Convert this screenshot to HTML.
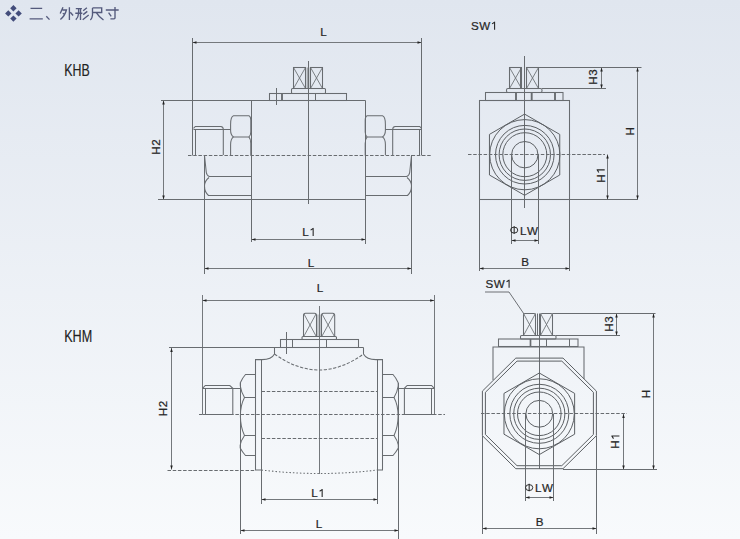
<!DOCTYPE html>
<html><head><meta charset="utf-8"><style>
html,body{margin:0;padding:0;}
body{width:740px;height:539px;overflow:hidden;background:linear-gradient(to bottom,rgb(224,230,239) 0%,rgb(248,250,252) 100%);font-family:"Liberation Sans",sans-serif;}
svg{position:absolute;left:0;top:0;font-family:"Liberation Sans",sans-serif;}
</style></head><body>
<svg width="740" height="539" viewBox="0 0 740 539">
<line x1="192.5" y1="38" x2="192.5" y2="155.5" stroke="#686c70" stroke-width="1.05"/>
<line x1="421.5" y1="38" x2="421.5" y2="155.5" stroke="#686c70" stroke-width="1.05"/>
<line x1="192.5" y1="42.5" x2="421.5" y2="42.5" stroke="#74787c" stroke-width="1.05"/>
<polygon points="192.50,42.50 196.50,41.25 196.50,43.75" fill="#222222"/>
<polygon points="421.50,42.50 417.50,41.25 417.50,43.75" fill="#222222"/>
<line x1="308.5" y1="61" x2="308.5" y2="204" stroke="#686c70" stroke-width="1.05"/>
<rect x="293.5" y="67.5" width="12.00" height="21.00" stroke="#686c70" stroke-width="1.05" fill="none"/>
<line x1="293.5" y1="67.5" x2="305.5" y2="88.5" stroke="#686c70" stroke-width="0.84"/>
<line x1="305.5" y1="67.5" x2="293.5" y2="88.5" stroke="#686c70" stroke-width="0.84"/>
<rect x="310.5" y="67.5" width="12.00" height="21.00" stroke="#686c70" stroke-width="1.05" fill="none"/>
<line x1="310.5" y1="67.5" x2="322.5" y2="88.5" stroke="#686c70" stroke-width="0.84"/>
<line x1="322.5" y1="67.5" x2="310.5" y2="88.5" stroke="#686c70" stroke-width="0.84"/>
<line x1="308" y1="67.5" x2="308" y2="88.5" stroke="#a5a9ad" stroke-width="2.73"/>
<line x1="308.5" y1="61" x2="308.5" y2="204" stroke="#686c70" stroke-width="1.05"/>
<rect x="291.5" y="88.5" width="34.00" height="5.00" stroke="#686c70" stroke-width="1.05" fill="none" rx="1"/>
<rect x="269.5" y="93.5" width="77.00" height="7.00" stroke="#686c70" stroke-width="1.05" fill="none"/>
<line x1="282" y1="93.5" x2="282" y2="100.5" stroke="#686c70" stroke-width="1.89"/>
<line x1="315.5" y1="93.5" x2="315.5" y2="100.5" stroke="#686c70" stroke-width="1.05"/>
<line x1="276.5" y1="88" x2="276.5" y2="105" stroke="#686c70" stroke-width="1.05"/>
<line x1="161" y1="100.5" x2="365.5" y2="100.5" stroke="#686c70" stroke-width="1.05"/>
<line x1="251.5" y1="100.5" x2="251.5" y2="242" stroke="#686c70" stroke-width="1.05"/>
<line x1="365.5" y1="100.5" x2="365.5" y2="244" stroke="#686c70" stroke-width="1.05"/>
<path d="M193.5,128.3 L195.3,126.5 H220.8 Q223.3,126.8 223.3,129.5 V155" stroke="#686c70" stroke-width="1.05" fill="none"/>
<line x1="193.5" y1="129.5" x2="230.6" y2="129.5" stroke="#686c70" stroke-width="1.05"/>
<line x1="195.5" y1="129.5" x2="195.5" y2="155" stroke="#686c70" stroke-width="1.05"/>
<path d="M233.5,115.7 H248.9 Q250.8,116.5 250.8,120.5 V132.1 Q250.8,135.5 248.9,136.9 H233.5 Q230.6,135 230.6,130.2 V124.4 Q230.6,116.5 233.5,115.7 Z" stroke="#686c70" stroke-width="1.05" fill="none"/>
<path d="M233.5,136.9 Q230.6,139 230.6,144.6 V155 M248.9,136.9 Q250.8,139 250.8,143.6 V155" stroke="#686c70" stroke-width="1.05" fill="none"/>
<path d="M421.5,128.3 L419.7,126.5 H395.2 Q392.7,126.8 392.7,129.5 V155" stroke="#686c70" stroke-width="1.05" fill="none"/>
<line x1="385.4" y1="129.5" x2="421.5" y2="129.5" stroke="#686c70" stroke-width="1.05"/>
<line x1="419.5" y1="129.5" x2="419.5" y2="155" stroke="#686c70" stroke-width="1.05"/>
<path d="M 382.50 115.70 H 367.10 Q 365.20 116.50 365.20 120.50 V 132.10 Q 365.20 135.50 367.10 136.90 H 382.50 Q 385.40 135.00 385.40 130.20 V 124.40 Q 385.40 116.50 382.50 115.70 Z" stroke="#686c70" stroke-width="1.05" fill="none"/>
<path d="M 382.50 136.90 Q 385.40 139.00 385.40 144.60 V 155.00 M 367.10 136.90 Q 365.20 139.00 365.20 143.60 V 155.00" stroke="#686c70" stroke-width="1.05" fill="none"/>
<line x1="188" y1="155.5" x2="432" y2="155.5" stroke="#686c70" stroke-width="1.05" stroke-dasharray="3.5 1.7"/>
<line x1="204.5" y1="155" x2="204.5" y2="274" stroke="#686c70" stroke-width="1.05"/>
<path d="M204.5,155.5 L206.3,172.5 Q207,176 209.5,176.5 H251.5" stroke="#686c70" stroke-width="1.05" fill="none"/>
<path d="M209,177.5 Q204.5,181 204.5,186 Q204.5,192 208.5,195.5 H251.5" stroke="#686c70" stroke-width="1.05" fill="none"/>
<line x1="411.5" y1="155" x2="411.5" y2="274" stroke="#686c70" stroke-width="1.05"/>
<path d="M411.5,155.5 L409.7,172.5 Q409,176 406.5,176.5 H365.5" stroke="#686c70" stroke-width="1.05" fill="none"/>
<path d="M407,177.5 Q411.5,181 411.5,186 Q411.5,192 407.5,195.5 H365.5" stroke="#686c70" stroke-width="1.05" fill="none"/>
<line x1="158" y1="199.5" x2="365.5" y2="199.5" stroke="#686c70" stroke-width="1.05"/>
<line x1="163.5" y1="100.5" x2="163.5" y2="199.5" stroke="#74787c" stroke-width="1.05"/>
<polygon points="163.50,100.50 162.25,104.50 164.75,104.50" fill="#222222"/>
<polygon points="163.50,199.50 162.25,195.50 164.75,195.50" fill="#222222"/>
<line x1="251.5" y1="239.5" x2="365.5" y2="239.5" stroke="#74787c" stroke-width="1.05"/>
<polygon points="251.50,239.50 255.50,238.25 255.50,240.75" fill="#222222"/>
<polygon points="365.50,239.50 361.50,238.25 361.50,240.75" fill="#222222"/>
<line x1="204.5" y1="268.5" x2="411.5" y2="268.5" stroke="#74787c" stroke-width="1.05"/>
<polygon points="204.50,268.50 208.50,267.25 208.50,269.75" fill="#222222"/>
<polygon points="411.50,268.50 407.50,267.25 407.50,269.75" fill="#222222"/>
<line x1="524.5" y1="56" x2="524.5" y2="208" stroke="#686c70" stroke-width="1.05"/>
<rect x="509.5" y="67.5" width="12.00" height="21.00" stroke="#686c70" stroke-width="1.05" fill="none"/>
<line x1="509.5" y1="67.5" x2="521.5" y2="88.5" stroke="#686c70" stroke-width="0.84"/>
<line x1="521.5" y1="67.5" x2="509.5" y2="88.5" stroke="#686c70" stroke-width="0.84"/>
<rect x="526.5" y="67.5" width="12.00" height="21.00" stroke="#686c70" stroke-width="1.05" fill="none"/>
<line x1="526.5" y1="67.5" x2="538.5" y2="88.5" stroke="#686c70" stroke-width="0.84"/>
<line x1="538.5" y1="67.5" x2="526.5" y2="88.5" stroke="#686c70" stroke-width="0.84"/>
<line x1="520.5" y1="67.5" x2="520.5" y2="88.5" stroke="#686c70" stroke-width="1.05"/>
<rect x="506.5" y="88.5" width="35.50" height="4.00" stroke="#686c70" stroke-width="1.05" fill="none" rx="1.5"/>
<rect x="485.5" y="92.5" width="77.50" height="8.00" stroke="#686c70" stroke-width="1.05" fill="none"/>
<line x1="516" y1="92.5" x2="516" y2="100.5" stroke="#686c70" stroke-width="1.89"/>
<line x1="531.7" y1="92.5" x2="531.7" y2="100.5" stroke="#686c70" stroke-width="1.89"/>
<line x1="555" y1="92.5" x2="555" y2="100.5" stroke="#686c70" stroke-width="1.89"/>
<rect x="479.5" y="100.5" width="90.00" height="99.00" stroke="#686c70" stroke-width="1.05" fill="none"/>
<line x1="479.5" y1="199.5" x2="479.5" y2="271" stroke="#686c70" stroke-width="1.05"/>
<line x1="569.5" y1="199.5" x2="569.5" y2="271" stroke="#686c70" stroke-width="1.05"/>
<polygon points="524.60,114.10 559.76,134.40 559.76,175.00 524.60,195.30 489.44,175.00 489.44,134.40" fill="none" stroke="#5c6064" stroke-width="1.00"/>
<circle cx="524.8" cy="154.7" r="35.1" fill="none" stroke="#5c6064" stroke-width="1.0"/>
<circle cx="524.8" cy="154.7" r="29.3" fill="none" stroke="#5c6064" stroke-width="1.0"/>
<circle cx="524.8" cy="154.7" r="25.7" fill="none" stroke="#5c6064" stroke-width="1.0"/>
<circle cx="524.8" cy="154.7" r="22" fill="none" stroke="#5c6064" stroke-width="1.0"/>
<circle cx="524.8" cy="154.7" r="13.2" fill="none" stroke="#5c6064" stroke-width="1.0"/>
<line x1="468" y1="154.5" x2="605" y2="154.5" stroke="#686c70" stroke-width="1.05" stroke-dasharray="3.5 1.7"/>
<line x1="511.5" y1="154.5" x2="511.5" y2="244" stroke="#686c70" stroke-width="1.05"/>
<line x1="538.5" y1="154.5" x2="538.5" y2="244" stroke="#686c70" stroke-width="1.05"/>
<line x1="511.5" y1="240.5" x2="538.5" y2="240.5" stroke="#74787c" stroke-width="1.05"/>
<polygon points="511.50,240.50 515.50,239.25 515.50,241.75" fill="#222222"/>
<polygon points="538.50,240.50 534.50,239.25 534.50,241.75" fill="#222222"/>
<line x1="479.5" y1="268.5" x2="569.5" y2="268.5" stroke="#74787c" stroke-width="1.05"/>
<polygon points="479.50,268.50 483.50,267.25 483.50,269.75" fill="#222222"/>
<polygon points="569.50,268.50 565.50,267.25 565.50,269.75" fill="#222222"/>
<line x1="569.5" y1="199.5" x2="638" y2="199.5" stroke="#686c70" stroke-width="1.05"/>
<line x1="538.5" y1="67.5" x2="641.5" y2="67.5" stroke="#686c70" stroke-width="1.05"/>
<line x1="542" y1="88.5" x2="606" y2="88.5" stroke="#686c70" stroke-width="1.05"/>
<line x1="601.5" y1="67.5" x2="601.5" y2="88.5" stroke="#74787c" stroke-width="1.05"/>
<polygon points="601.50,67.50 600.25,71.50 602.75,71.50" fill="#222222"/>
<polygon points="601.50,88.50 600.25,84.50 602.75,84.50" fill="#222222"/>
<line x1="637.5" y1="67.5" x2="637.5" y2="199.5" stroke="#74787c" stroke-width="1.05"/>
<polygon points="637.50,67.50 636.25,71.50 638.75,71.50" fill="#222222"/>
<polygon points="637.50,199.50 636.25,195.50 638.75,195.50" fill="#222222"/>
<line x1="607.5" y1="154.5" x2="607.5" y2="199.5" stroke="#74787c" stroke-width="1.05"/>
<polygon points="607.50,154.50 606.25,158.50 608.75,158.50" fill="#222222"/>
<polygon points="607.50,199.50 606.25,195.50 608.75,195.50" fill="#222222"/>
<line x1="202.5" y1="295" x2="202.5" y2="414.5" stroke="#74787c" stroke-width="1.05"/>
<line x1="434.5" y1="295" x2="434.5" y2="414.5" stroke="#74787c" stroke-width="1.05"/>
<line x1="202.5" y1="300.5" x2="434.2" y2="300.5" stroke="#74787c" stroke-width="1.05"/>
<polygon points="202.50,300.50 206.50,299.25 206.50,301.75" fill="#222222"/>
<polygon points="434.20,300.50 430.20,299.25 430.20,301.75" fill="#222222"/>
<line x1="319.5" y1="306" x2="319.5" y2="474" stroke="#686c70" stroke-width="1.05"/>
<rect x="316.8" y="314.5" width="4.6" height="22" fill="#c3c7cb"/>
<path d="M303.5,336.3 V315.5 Q303.5,313.3 305.5,313.3 H314.5 Q316.5,313.3 316.5,315.5 V336.3" stroke="#686c70" stroke-width="1.05" fill="none"/>
<path d="M321.5,336.3 V315.5 Q321.5,313.3 323.5,313.3 H332.7 Q334.7,313.3 334.7,315.5 V336.3" stroke="#686c70" stroke-width="1.05" fill="none"/>
<line x1="304" y1="314" x2="316" y2="336" stroke="#686c70" stroke-width="0.84"/>
<line x1="316" y1="314" x2="304" y2="336" stroke="#686c70" stroke-width="0.84"/>
<line x1="322" y1="314" x2="334.2" y2="336" stroke="#686c70" stroke-width="0.84"/>
<line x1="334.2" y1="314" x2="322" y2="336" stroke="#686c70" stroke-width="0.84"/>
<line x1="319.5" y1="306" x2="319.5" y2="474" stroke="#74787c" stroke-width="1.05"/>
<rect x="302" y="336.5" width="34.50" height="3.00" stroke="#686c70" stroke-width="1.05" fill="none" rx="1"/>
<rect x="280.5" y="339.5" width="78.00" height="8.00" stroke="#686c70" stroke-width="1.05" fill="none"/>
<line x1="292.5" y1="339.5" x2="292.5" y2="347.5" stroke="#686c70" stroke-width="1.05"/>
<line x1="326.5" y1="339.5" x2="326.5" y2="347.5" stroke="#686c70" stroke-width="1.05"/>
<line x1="286.5" y1="332" x2="286.5" y2="354" stroke="#686c70" stroke-width="1.05"/>
<line x1="169" y1="347.5" x2="363.5" y2="347.5" stroke="#686c70" stroke-width="1.05"/>
<path d="M274.5,347.5 V354 Q271.5,359.6 262,359.6 H255.5 V470 H261.5" stroke="#686c70" stroke-width="1.05" fill="none"/>
<line x1="261.5" y1="359.5" x2="261.5" y2="504" stroke="#686c70" stroke-width="1.05"/>
<path d="M363.5,347.5 V354 Q366.5,359.6 376,359.6 H382.5 V470 H377.5" stroke="#686c70" stroke-width="1.05" fill="none"/>
<line x1="377.5" y1="359.5" x2="377.5" y2="504" stroke="#686c70" stroke-width="1.05"/>
<path d="M274.5,354 Q319,386 363.5,354" stroke="#686c70" stroke-width="1.05" fill="none" stroke-dasharray="3.2 1.6"/>
<path d="M261.5,470 Q320,477 377.5,470" stroke="#686c70" stroke-width="1.05" fill="none" stroke-dasharray="1.5 2"/>
<line x1="261.5" y1="391.5" x2="377.5" y2="391.5" stroke="#686c70" stroke-width="1.05" stroke-dasharray="3.5 1.7"/>
<line x1="261.5" y1="438.5" x2="377.5" y2="438.5" stroke="#686c70" stroke-width="1.05" stroke-dasharray="3.5 1.7"/>
<line x1="199" y1="414.5" x2="445" y2="414.5" stroke="#686c70" stroke-width="1.05" stroke-dasharray="3.5 1.7"/>
<path d="M202.5,388.3 L205.3,385.5 H229.8 L232.8,388.3 V414.5" stroke="#686c70" stroke-width="1.05" fill="none"/>
<line x1="202.5" y1="388.5" x2="240.3" y2="388.5" stroke="#686c70" stroke-width="1.05"/>
<line x1="205.5" y1="388.3" x2="205.5" y2="414.5" stroke="#686c70" stroke-width="1.05"/>
<path d="M255.5,374.5 H245.5 Q242.6,377.6 240.3,382.8 V386 Q241,391.5 244.5,397.5 H255.5" stroke="#686c70" stroke-width="1.05" fill="none"/>
<path d="M244.5,397.5 Q240.4,405 240.4,416 Q240.4,427 244.5,435.5 H255.5" stroke="#686c70" stroke-width="1.05" fill="none"/>
<path d="M244.5,435.5 Q241,440.5 240.2,445 V448 Q242.6,452.4 245.5,455.5 H255.5" stroke="#686c70" stroke-width="1.05" fill="none"/>
<line x1="240.5" y1="383" x2="240.5" y2="534" stroke="#686c70" stroke-width="1.05"/>
<line x1="202.5" y1="414.5" x2="232.8" y2="414.5" stroke="#686c70" stroke-width="1.05"/>
<path d="M434.2,388.3 L431.6,385.5 H407.2 L404.4,388.3 V414.5" stroke="#686c70" stroke-width="1.05" fill="none"/>
<line x1="397.8" y1="388.5" x2="434.2" y2="388.5" stroke="#686c70" stroke-width="1.05"/>
<line x1="431.5" y1="388.3" x2="431.5" y2="414.5" stroke="#686c70" stroke-width="1.05"/>
<path d="M382.5,374.5 H393 Q395.9,377.6 398.2,382.8 V386 Q397.5,391.5 394,397.5 H382.5" stroke="#686c70" stroke-width="1.05" fill="none"/>
<path d="M394,397.5 Q398.1,405 398.1,416 Q398.1,427 394,435.5 H382.5" stroke="#686c70" stroke-width="1.05" fill="none"/>
<path d="M394,435.5 Q397.5,440.5 398.3,445 V448 Q395.9,452.4 393,455.5 H382.5" stroke="#686c70" stroke-width="1.05" fill="none"/>
<line x1="398.5" y1="383" x2="398.5" y2="539" stroke="#686c70" stroke-width="1.05"/>
<line x1="404.4" y1="414.5" x2="434.2" y2="414.5" stroke="#686c70" stroke-width="1.05"/>
<line x1="167.5" y1="470.5" x2="255.5" y2="470.5" stroke="#686c70" stroke-width="1.05" stroke-dasharray="3.5 1.7"/>
<line x1="171.5" y1="348" x2="171.5" y2="469.5" stroke="#74787c" stroke-width="1.05"/>
<polygon points="171.50,348.00 170.25,352.00 172.75,352.00" fill="#222222"/>
<polygon points="171.50,469.50 170.25,465.50 172.75,465.50" fill="#222222"/>
<line x1="261.5" y1="499.5" x2="377.5" y2="499.5" stroke="#74787c" stroke-width="1.05"/>
<polygon points="261.50,499.50 265.50,498.25 265.50,500.75" fill="#222222"/>
<polygon points="377.50,499.50 373.50,498.25 373.50,500.75" fill="#222222"/>
<line x1="240.5" y1="530.5" x2="398.5" y2="530.5" stroke="#74787c" stroke-width="1.05"/>
<polygon points="240.50,530.50 244.50,529.25 244.50,531.75" fill="#222222"/>
<polygon points="398.50,530.50 394.50,529.25 394.50,531.75" fill="#222222"/>
<path d="M485,292 H509 L524,314" stroke="#5c6064" stroke-width="0.89" fill="none"/>
<line x1="539.5" y1="313.5" x2="539.5" y2="469" stroke="#686c70" stroke-width="1.05"/>
<path d="M523.5,335.5 V315.0 Q523.5,313.5 525.0,313.5 H534.0 Q535.5,313.5 535.5,315.0 V335.5 Z" stroke="#686c70" stroke-width="1.05" fill="none"/>
<line x1="523.5" y1="313.5" x2="535.5" y2="335.5" stroke="#686c70" stroke-width="0.84"/>
<line x1="535.5" y1="313.5" x2="523.5" y2="335.5" stroke="#686c70" stroke-width="0.84"/>
<path d="M540.5,335.5 V315.0 Q540.5,313.5 542.0,313.5 H551.0 Q552.5,313.5 552.5,315.0 V335.5 Z" stroke="#686c70" stroke-width="1.05" fill="none"/>
<line x1="540.5" y1="313.5" x2="552.5" y2="335.5" stroke="#686c70" stroke-width="0.84"/>
<line x1="552.5" y1="313.5" x2="540.5" y2="335.5" stroke="#686c70" stroke-width="0.84"/>
<line x1="537.5" y1="313.5" x2="537.5" y2="335.5" stroke="#686c70" stroke-width="1.05"/>
<rect x="520.5" y="335.5" width="35.50" height="3.50" stroke="#686c70" stroke-width="1.05" fill="none" rx="1"/>
<rect x="498.5" y="339" width="79.50" height="7.50" stroke="#686c70" stroke-width="1.05" fill="none"/>
<line x1="530.5" y1="339" x2="530.5" y2="346.5" stroke="#686c70" stroke-width="1.68"/>
<line x1="546.5" y1="339" x2="546.5" y2="346.5" stroke="#686c70" stroke-width="1.05"/>
<line x1="569.5" y1="339" x2="569.5" y2="346.5" stroke="#686c70" stroke-width="1.05"/>
<path d="M493,380 V347 H584 V379" stroke="#686c70" stroke-width="1.05" fill="none"/>
<polygon points="515.80,358.10 563.00,358.10 596.40,391.10 596.40,435.70 563.00,468.70 515.80,468.70 482.40,435.70 482.40,391.10" fill="none" stroke="#5c6064" stroke-width="1.00"/>
<polygon points="517.00,361.10 561.80,361.10 593.40,392.30 593.40,434.50 561.80,465.70 517.00,465.70 485.40,434.50 485.40,392.30" fill="none" stroke="#5c6064" stroke-width="1.00"/>
<polygon points="539.30,373.00 574.63,393.40 574.63,434.20 539.30,454.60 503.97,434.20 503.97,393.40" fill="none" stroke="#5c6064" stroke-width="1.00"/>
<circle cx="539.3" cy="413.8" r="35" fill="none" stroke="#5c6064" stroke-width="1.0"/>
<circle cx="539.3" cy="413.8" r="29.5" fill="none" stroke="#5c6064" stroke-width="1.0"/>
<circle cx="539.3" cy="413.8" r="25.6" fill="none" stroke="#5c6064" stroke-width="1.0"/>
<circle cx="539.3" cy="413.8" r="21.8" fill="none" stroke="#5c6064" stroke-width="1.0"/>
<circle cx="539.3" cy="413.8" r="13.4" fill="none" stroke="#5c6064" stroke-width="1.0"/>
<line x1="481" y1="413.5" x2="627" y2="413.5" stroke="#686c70" stroke-width="1.05" stroke-dasharray="3.5 1.7"/>
<line x1="525.5" y1="413.8" x2="525.5" y2="501" stroke="#686c70" stroke-width="1.05"/>
<line x1="553.5" y1="413.8" x2="553.5" y2="501" stroke="#686c70" stroke-width="1.05"/>
<line x1="525.5" y1="497.5" x2="553.5" y2="497.5" stroke="#74787c" stroke-width="1.05"/>
<polygon points="525.50,497.50 529.50,496.25 529.50,498.75" fill="#222222"/>
<polygon points="553.50,497.50 549.50,496.25 549.50,498.75" fill="#222222"/>
<line x1="482.5" y1="436" x2="482.5" y2="534" stroke="#686c70" stroke-width="1.05"/>
<line x1="596.5" y1="436" x2="596.5" y2="534" stroke="#686c70" stroke-width="1.05"/>
<line x1="482.5" y1="528.5" x2="596.5" y2="528.5" stroke="#74787c" stroke-width="1.05"/>
<polygon points="482.50,528.50 486.50,527.25 486.50,529.75" fill="#222222"/>
<polygon points="596.50,528.50 592.50,527.25 592.50,529.75" fill="#222222"/>
<line x1="563" y1="469.5" x2="657" y2="469.5" stroke="#686c70" stroke-width="1.05"/>
<line x1="552.5" y1="313.5" x2="655.5" y2="313.5" stroke="#686c70" stroke-width="1.05"/>
<line x1="556" y1="335.5" x2="620" y2="335.5" stroke="#686c70" stroke-width="1.05"/>
<line x1="616.5" y1="313.5" x2="616.5" y2="335.5" stroke="#74787c" stroke-width="1.05"/>
<polygon points="616.50,313.50 615.25,317.50 617.75,317.50" fill="#222222"/>
<polygon points="616.50,335.50 615.25,331.50 617.75,331.50" fill="#222222"/>
<line x1="653.5" y1="313.5" x2="653.5" y2="469.5" stroke="#74787c" stroke-width="1.05"/>
<polygon points="653.50,313.50 652.25,317.50 654.75,317.50" fill="#222222"/>
<polygon points="653.50,469.50 652.25,465.50 654.75,465.50" fill="#222222"/>
<line x1="623.5" y1="414" x2="623.5" y2="469.5" stroke="#74787c" stroke-width="1.05"/>
<polygon points="623.50,414.00 622.25,418.00 624.75,418.00" fill="#222222"/>
<polygon points="623.50,469.50 622.25,465.50 624.75,465.50" fill="#222222"/>
<polygon points="13.4,4.999999999999999 16.6,8.2 13.4,11.399999999999999 10.2,8.2" fill="#434d7b"/>
<polygon points="8.3,10.2 11.5,13.4 8.3,16.6 5.1000000000000005,13.4" fill="#434d7b"/>
<polygon points="18.6,10.2 21.8,13.4 18.6,16.6 15.400000000000002,13.4" fill="#434d7b"/>
<polygon points="13.4,15.400000000000002 16.6,18.6 13.4,21.8 10.2,18.6" fill="#434d7b"/>
<path d="M30.5,8.4 H42.2 M29.6,18.9 H42.8 M46.3,16.3 L49.5,19.6 M63,7.2 L60.2,13.6 M62.5,10 H66.4 Q65,15.5 60.4,19.6 M62.8,13.2 L64.8,14.8 M69.4,7.2 V20 M70.3,12.3 L73.1,15.5 M75.8,8.6 H81.9 M75.3,13.2 H82.3 M78.6,8.6 V13.2 Q78.4,17 75.8,19.8 M80.5,8.6 V20 M86.9,7.7 L83.2,10.7 M87.3,11.4 L83.2,14.6 M88.7,15 L82.7,19.8 M92.5,7.9 H101.7 V12.5 H92.5 M92.5,7.9 V15 Q92.3,18 90.4,20 M96.3,12.7 Q99,17 103.5,20 M105.8,10 H118.7 M115,7.1 V18 Q115,18.8 114,18.8 H110.4 M108.6,12.7 L111.2,16.4" stroke="#545a7c" stroke-width="1.35" fill="none"/>
<g transform="translate(323.5 35.5)"><text x="-3.23" y="0" font-size="11.6" fill="#262626" stroke="#262626" stroke-width="0.22">L</text></g>
<g transform="translate(159.8 147) rotate(-90)"><text x="-7.66" y="0" font-size="11.6" fill="#262626" stroke="#262626" stroke-width="0.22">H</text><text x="1.21" y="0" font-size="11.6" fill="#262626" stroke="#262626" stroke-width="0.22">2</text></g>
<g transform="translate(309 236.0)"><text x="-6.70" y="0" font-size="11.6" fill="#262626" stroke="#262626" stroke-width="0.22">L</text><path d="M4.16,-7.98 V0 M4.50,-7.75 L1.61,-5.89" stroke="#262626" stroke-width="1.08" fill="none"/></g>
<g transform="translate(311 266.8)"><text x="-3.23" y="0" font-size="11.6" fill="#262626" stroke="#262626" stroke-width="0.22">L</text></g>
<g transform="translate(471 29.8)"><text x="0.00" y="0" font-size="11.6" fill="#262626" stroke="#262626" stroke-width="0.22">S</text><text x="8.24" y="0" font-size="11.6" fill="#262626" stroke="#262626" stroke-width="0.22">W</text><path d="M23.59,-7.98 V0 M23.93,-7.75 L21.05,-5.89" stroke="#262626" stroke-width="1.08" fill="none"/></g>
<g transform="translate(524 234.5)"><ellipse cx="-9.83" cy="-4.4" rx="3.6" ry="3.0" stroke="#262626" stroke-width="0.95" fill="none"/><path d="M-9.83,-8.2 V-0.8" stroke="#262626" stroke-width="1.05"/><text x="-4.07" y="0" font-size="11.6" fill="#262626" stroke="#262626" stroke-width="0.22">L</text><text x="2.88" y="0" font-size="11.6" fill="#262626" stroke="#262626" stroke-width="0.22">W</text></g>
<g transform="translate(525 265.9)"><text x="-3.87" y="0" font-size="11.6" fill="#262626" stroke="#262626" stroke-width="0.22">B</text></g>
<g transform="translate(596.9 77) rotate(-90)"><text x="-7.66" y="0" font-size="11.6" fill="#262626" stroke="#262626" stroke-width="0.22">H</text><text x="1.21" y="0" font-size="11.6" fill="#262626" stroke="#262626" stroke-width="0.22">3</text></g>
<g transform="translate(633.8 131.4) rotate(-90)"><text x="-4.19" y="0" font-size="11.6" fill="#262626" stroke="#262626" stroke-width="0.22">H</text></g>
<g transform="translate(604.7 175) rotate(-90)"><text x="-7.66" y="0" font-size="11.6" fill="#262626" stroke="#262626" stroke-width="0.22">H</text><path d="M5.12,-7.98 V0 M5.46,-7.75 L2.57,-5.89" stroke="#262626" stroke-width="1.08" fill="none"/></g>
<g transform="translate(320 291.8)"><text x="-3.23" y="0" font-size="11.6" fill="#262626" stroke="#262626" stroke-width="0.22">L</text></g>
<g transform="translate(167.2 408.5) rotate(-90)"><text x="-7.66" y="0" font-size="11.6" fill="#262626" stroke="#262626" stroke-width="0.22">H</text><text x="1.21" y="0" font-size="11.6" fill="#262626" stroke="#262626" stroke-width="0.22">2</text></g>
<g transform="translate(318 497.1)"><text x="-6.70" y="0" font-size="11.6" fill="#262626" stroke="#262626" stroke-width="0.22">L</text><path d="M4.16,-7.98 V0 M4.50,-7.75 L1.61,-5.89" stroke="#262626" stroke-width="1.08" fill="none"/></g>
<g transform="translate(319 527.9)"><text x="-3.23" y="0" font-size="11.6" fill="#262626" stroke="#262626" stroke-width="0.22">L</text></g>
<g transform="translate(485.5 287.7)"><text x="0.00" y="0" font-size="11.6" fill="#262626" stroke="#262626" stroke-width="0.22">S</text><text x="8.24" y="0" font-size="11.6" fill="#262626" stroke="#262626" stroke-width="0.22">W</text><path d="M23.59,-7.98 V0 M23.93,-7.75 L21.05,-5.89" stroke="#262626" stroke-width="1.08" fill="none"/></g>
<g transform="translate(539 492.0)"><ellipse cx="-9.83" cy="-4.4" rx="3.6" ry="3.0" stroke="#262626" stroke-width="0.95" fill="none"/><path d="M-9.83,-8.2 V-0.8" stroke="#262626" stroke-width="1.05"/><text x="-4.07" y="0" font-size="11.6" fill="#262626" stroke="#262626" stroke-width="0.22">L</text><text x="2.88" y="0" font-size="11.6" fill="#262626" stroke="#262626" stroke-width="0.22">W</text></g>
<g transform="translate(539.5 526.0)"><text x="-3.87" y="0" font-size="11.6" fill="#262626" stroke="#262626" stroke-width="0.22">B</text></g>
<g transform="translate(612.5 324) rotate(-90)"><text x="-7.66" y="0" font-size="11.6" fill="#262626" stroke="#262626" stroke-width="0.22">H</text><text x="1.21" y="0" font-size="11.6" fill="#262626" stroke="#262626" stroke-width="0.22">3</text></g>
<g transform="translate(650.2 394) rotate(-90)"><text x="-4.19" y="0" font-size="11.6" fill="#262626" stroke="#262626" stroke-width="0.22">H</text></g>
<g transform="translate(619.4 441.2) rotate(-90)"><text x="-7.66" y="0" font-size="11.6" fill="#262626" stroke="#262626" stroke-width="0.22">H</text><path d="M5.12,-7.98 V0 M5.46,-7.75 L2.57,-5.89" stroke="#262626" stroke-width="1.08" fill="none"/></g>
<text x="0" y="0" font-size="16.4" fill="#222" stroke="#222" stroke-width="0.15" transform="translate(64.2 75.6) scale(0.755 1)">KHB</text>
<text x="0" y="0" font-size="16.4" fill="#222" stroke="#222" stroke-width="0.15" transform="translate(64.2 341.8) scale(0.77 1)">KHM</text>
</svg>
</body></html>
